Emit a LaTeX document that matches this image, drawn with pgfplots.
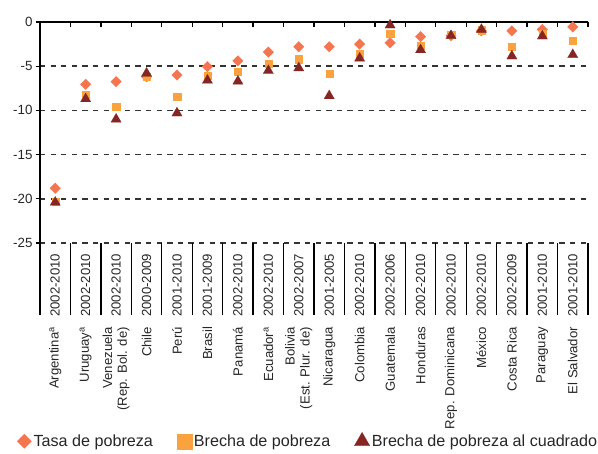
\documentclass[border=0pt]{standalone}
\usepackage{fontspec}
\setmainfont{Liberation Sans}
\usepackage{pgfplots}
\pgfplotsset{compat=1.18}
\definecolor{tasa}{RGB}{243,118,80}
\definecolor{brecha}{RGB}{249,162,62}
\definecolor{cuad}{RGB}{134,38,36}

\begin{document}
\begin{tikzpicture}
\begin{axis}[
  scale only axis,
  width=548bp, height=221bp,
  xmin=-0.5, xmax=17.5,
  ymin=-25, ymax=0,
  clip=false,
  axis line style={draw=none},
  ytick={-25,-20,-15,-10,-5,0},
  yticklabels={-25,-20,-15,-10,-5,0},
  ytick pos=left,
  tick align=outside,
  major tick length=4bp,
  y tick style={black, line width=1.2bp},
  ymajorgrids,
  grid style={black!80, line width=1.6bp, dash pattern=on 5.3bp off 5.3bp},
  yticklabel style={font=\fontsize{13.4}{15}\selectfont, text=black!85},
  xtick={0,...,17},
  x tick style={draw=none},
  xticklabels={2002-2010,2002-2010,2002-2010,2000-2009,2001-2010,2001-2009,2002-2010,2002-2010,2002-2007,2001-2005,2002-2010,2002-2006,2002-2010,2002-2010,2002-2010,2002-2009,2001-2010,2001-2010},
  xticklabel style={rotate=90, anchor=east, font=\fontsize{13.2}{15}\selectfont, text=black!85},
  xticklabel shift=3.5bp,
  legend columns=3,
  legend style={draw=none, fill=none, at={(0,0)}, anchor=west, xshift=-26bp, yshift=-198bp,
    font=\fontsize{16.2}{18}\selectfont, text=black!85,
    /tikz/every even column/.append style={column sep=22bp}},
  legend image code/.code={\draw[mark repeat=2,mark phase=2,#1] plot coordinates {(0bp,0bp) (7bp,0bp) (14bp,0bp)};},
]
\draw[black, line width=2bp] (rel axis cs:0,1) -- (rel axis cs:1,1);
\draw[black, line width=2bp] (rel axis cs:0,1) -- (rel axis cs:0,0) -- ++(0bp,-72bp);
\pgfplotsinvokeforeach{0.5,1.5,...,17.5}{
  \draw[black, line width=1.3bp] (axis cs:#1,-25) -- ++(0bp,-72bp);
  \draw[black, line width=1.3bp] (axis cs:#1,0) -- ++(0bp,-4.5bp);
}
\addplot[only marks, mark=square*, mark size=3.8bp,
  mark options={rotate=45, fill=tasa, draw=tasa, line width=0.1bp},
  legend image post style={mark size=5.1bp}]
  coordinates {
  (0,-18.8) (1,-7.05) (2,-6.75) (3,-6.2) (4,-6.0) (5,-5.05) (6,-4.4) (7,-3.4) (8,-2.8)
  (9,-2.8) (10,-2.5) (11,-2.35) (12,-1.65) (13,-1.55) (14,-1.0) (15,-1.0) (16,-0.85) (17,-0.55)
};
\addlegendentry{Tasa de pobreza}
\addplot[only marks, mark=square*, mark size=3.6bp,
  mark options={fill=brecha, draw=brecha, line width=0.1bp},
  legend image post style={mark size=7.5bp}]
  coordinates {
  (0,-20.3) (1,-8.2) (2,-9.6) (3,-6.2) (4,-8.45) (5,-6.1) (6,-5.65) (7,-4.7) (8,-4.2)
  (9,-5.85) (10,-3.55) (11,-1.35) (12,-2.65) (13,-1.4) (14,-0.9) (15,-2.8) (16,-1.3) (17,-2.1)
};
\addlegendentry{Brecha de pobreza}
\addplot[only marks, mark=triangle*, mark size=6bp,
  mark options={fill=cuad, draw=cuad, line width=0.1bp},
  legend image post style={mark size=9bp}]
  coordinates {
  (0,-20.4) (1,-8.7) (2,-11.0) (3,-5.8) (4,-10.3) (5,-6.6) (6,-6.7) (7,-5.5) (8,-5.2)
  (9,-8.35) (10,-4.1) (11,-0.35) (12,-3.15) (13,-1.55) (14,-0.85) (15,-3.85) (16,-1.6) (17,-3.7)
};
\addlegendentry{Brecha de pobreza al cuadrado}
\end{axis}
\begin{axis}[
  scale only axis,
  width=548bp, height=221bp,
  xmin=-0.5, xmax=17.5,
  ymin=-25, ymax=0,
  axis line style={draw=none},
  ytick=\empty,
  xtick={0,...,17},
  x tick style={draw=none},
  xticklabels={Argentina\textsuperscript{a},Uruguay\textsuperscript{a},{Venezuela\\(Rep. Bol. de)},Chile,Perú,Brasil,Panamá,Ecuador\textsuperscript{a},{Bolivia\\(Est. Plur. de)},Nicaragua,Colombia,Guatemala,Honduras,Rep. Dominicana,México,Costa Rica,Paraguay,El Salvador},
  xticklabel style={rotate=90, anchor=east, align=right, font=\fontsize{13.2}{15}\selectfont, text=black!85},
  xticklabel shift=80.5bp,
]
\addplot[draw=none] coordinates {(0,-30)};
\end{axis}
\pgfresetboundingbox
\path (-40bp,-211bp) rectangle (558bp,243bp);
\end{tikzpicture}
\end{document}
